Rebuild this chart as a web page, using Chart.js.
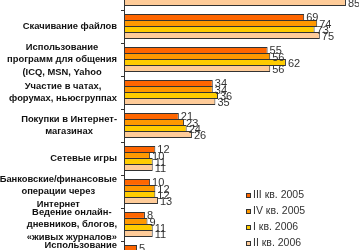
<!DOCTYPE html>
<html>
<head>
<meta charset="utf-8">
<script src="https://cdn.jsdelivr.net/npm/chart.js@4"></script>
<style>
  html, body { margin: 0; padding: 0; width: 359px; height: 250px; overflow: hidden; background: #fff; }
  #wrap { position: absolute; left: 0; top: -23px; width: 359px; height: 297px; }
  #legend { position: absolute; left: 246px; top: 186px; font: 10.5px Arial, "Liberation Sans", sans-serif; color: #333; }
  #legend div { height: 16px; line-height: 16px; white-space: nowrap; }
  #legend span { display: inline-block; width: 3px; height: 3px; border: 1px solid #333; margin-right: 2px; vertical-align: 0px; }
</style>
</head>
<body>
<div id="wrap"><canvas id="chart" width="359" height="297"></canvas></div>
<div id="legend"></div>
<script>
// categories (top one is cut off above the picture)
const categories = [
  ['Электронная почта'],
  ['Скачивание файлов'],
  ['Использование', 'программ для общения', '(ICQ, MSN, Yahoo'],
  ['Участие в чатах,', 'форумах, ньюсгруппах'],
  ['Покупки в Интернет-', 'магазинах'],
  ['Сетевые игры'],
  ['Банковские/финансовые', 'операции через', 'Интернет'],
  ['Ведение онлайн-', 'дневников, блогов,', '«живых журналов»'],
  ['Использование', 'IP-телефонии', '(VoIP)']
];
const seriesNames = ['III кв. 2005', 'IV кв. 2005', 'I кв. 2006', 'II кв. 2006'];
const seriesColors = ['#FF6600', '#FF9900', '#FFCC00', '#FFCC99'];

// values not visible in the picture are left as null
const q3_2005 = [null, 69, 55, 34, 21, 12, 10, 8, 5];
const q4_2005 = [null, 74, 56, 34, 23, 10, 12, 9, null];
const q1_2006 = [null, 73, 62, 36, 24, 11, 12, 11, null];
const q2_2006 = [85, 75, 56, 35, 26, 11, 13, 11, null];

const allSeries = [q3_2005, q4_2005, q1_2006, q2_2006];

const labelPlugin = {
  id: 'labelPlugin',
  afterDraw(chart) {
    const ctx = chart.ctx;
    const yScale = chart.scales.y;
    ctx.save();
    // category labels, each block centred on itself and pushed to the axis
    ctx.font = 'bold 9.4px Arial, "Liberation Sans", sans-serif';
    ctx.fillStyle = '#111';
    ctx.textAlign = 'center';
    ctx.textBaseline = 'middle';
    const lh = 12.5;
    categories.forEach((lines, i) => {
      const y = yScale.getPixelForTick(i);
      let w = 0;
      lines.forEach(l => { w = Math.max(w, ctx.measureText(l).width); });
      const cx = yScale.right - 7 - w / 2;
      const y0 = y - (lines.length - 1) * lh / 2;
      lines.forEach((l, k) => ctx.fillText(l, cx, y0 + k * lh));
    });
    // value labels
    ctx.font = '11px Arial, "Liberation Sans", sans-serif';
    ctx.fillStyle = '#333';
    ctx.textAlign = 'left';
    chart.data.datasets.forEach((ds, di) => {
      const meta = chart.getDatasetMeta(di);
      meta.data.forEach((el, i) => {
        const v = ds.data[i];
        if (v === null || v === undefined) return;
        ctx.fillText(String(v), el.x + 2, el.y + 1);
      });
    });
    ctx.restore();
  }
};

const chart = new Chart(document.getElementById('chart'), {
  type: 'bar',
  data: {
    labels: categories,
    datasets: allSeries.map((d, i) => ({
      label: seriesNames[i],
      data: d,
      backgroundColor: seriesColors[i],
      borderColor: '#333',
      borderWidth: 1,
      borderSkipped: false,
      categoryPercentage: 0.73,
      barPercentage: 1.15
    }))
  },
  options: {
    indexAxis: 'y',
    responsive: false,
    animation: false,
    layout: { padding: 0 },
    plugins: {
      legend: { display: false },
      tooltip: { enabled: false }
    },
    scales: {
      x: { display: false, min: 0, max: 90 },
      y: {
        grid: { drawOnChartArea: false, drawTicks: true, tickLength: 3, color: '#333', offset: true },
        border: { color: '#333' },
        ticks: { display: false },
        afterFit(scale) { scale.width = 124; }
      }
    }
  },
  plugins: [labelPlugin]
});

// legend
const legend = document.getElementById('legend');
seriesNames.forEach((name, i) => {
  const row = document.createElement('div');
  const box = document.createElement('span');
  box.style.background = seriesColors[i];
  row.appendChild(box);
  row.appendChild(document.createTextNode(name));
  legend.appendChild(row);
});
</script>
</body>
</html>
